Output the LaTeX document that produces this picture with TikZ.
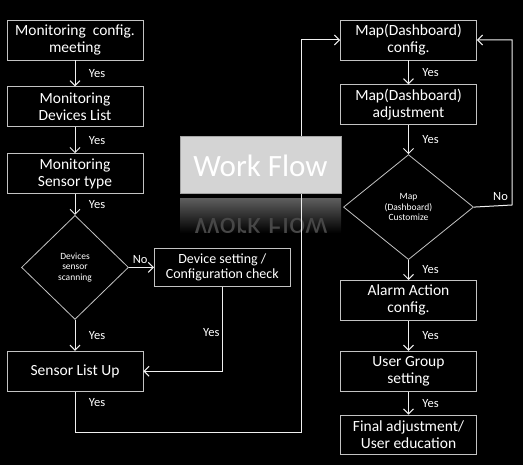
\documentclass[tikz,border=0pt]{standalone}
\usepackage{fontspec}
\setmainfont{Carlito}
\usepackage{tikz}
\usetikzlibrary{shapes.geometric, arrows.meta, positioning}
\definecolor{myline}{RGB}{240,240,240}
\definecolor{myedge}{RGB}{195,195,195}
\definecolor{mytitle}{RGB}{212,212,212}
\definecolor{mytitleedge}{RGB}{165,165,165}
\tikzset{
  box/.style={rectangle, draw=myedge, fill=black, text=white,
    minimum width=136pt, minimum height=40pt, align=center,
    font=\fontsize{15.5}{17}\selectfont, inner sep=1pt, line width=0.8pt},
  decision/.style={diamond, draw=myedge, fill=black, text=white,
    align=center, inner sep=0pt, font=\fontsize{9.5}{10.5}\selectfont,
    line width=0.8pt},
  titlebox/.style={rectangle, draw=mytitleedge, fill=mytitle, text=white,
    minimum width=161pt, minimum height=57pt,
    font=\fontsize{31}{32}\selectfont, line width=1pt},
  lbl/.style={text=white, font=\fontsize{12.5}{13}\selectfont},
  arrow/.style={-{Straight Barb[length=5pt,width=10pt]}, line width=1pt, color=myline},
  line/.style={line width=1pt, color=myline}
}

\begin{document}
\begin{tikzpicture}[x=1pt, y=1pt]
  \fill[black] (0,0) rectangle (523,-465);
  \useasboundingbox (0,0) rectangle (523,-465);

  \node[box] (meet) at (75,-40) {Monitoring\ \ config.\\meeting};
  \node[box, below=26pt of meet] (devlist) {Monitoring\\Devices List};
  \node[box, below=26pt of devlist] (stype) {Monitoring\\Sensor type};
  \node[decision, minimum width=107pt, minimum height=104pt, below=21pt of stype] (scan) {Devices\\sensor\\scanning};
  \node[box, minimum height=38pt, font=\fontsize{14}{15.5}\selectfont, right=25pt of scan] (check) {Device setting /\\Configuration check};
  \node[box, below=31pt of scan] (listup) {Sensor List Up};

  \node[box] (mapcfg) at (408.5,-40) {Map(Dashboard)\\config.};
  \node[box, below=24pt of mapcfg] (mapadj) {Map(Dashboard)\\adjustment};
  \node[decision, minimum width=130pt, minimum height=105pt, below=29pt of mapadj] (custom) {Map\\(Dashboard)\\Customize};
  \node[box, below=20pt of custom] (alarm) {Alarm Action\\config.};
  \node[box, below=30pt of alarm] (group) {User Group\\setting};
  \node[box, minimum height=39pt, below=23pt of group] (final) {Final adjustment/\\User education};

  \coordinate (lowbend) at (301,-433);
  \coordinate (nobend) at (512,-205);

  \begin{scope}
    \clip (180,-199) rectangle (341,-233);
    \shade[top color=black!64, bottom color=black] (180,-199) rectangle (341,-233);
    \node[text=black!72, font=\fontsize{31}{32}\selectfont, yscale=-1, transform shape] (mirror) at (260.5,-229) {Work Flow};
  \end{scope}

  \draw[arrow] (meet) -- node[lbl, right=10pt] {Yes} (devlist);
  \draw[arrow] (devlist) -- node[lbl, right=10pt] {Yes} (stype);
  \draw[arrow] (stype) -- node[lbl, right=10pt] {Yes} (scan);
  \draw[arrow] (scan) -- node[lbl, right=10pt] {Yes} (listup);
  \draw[arrow] (scan.east) -- node[lbl, above=0pt, pos=0.45] {No} (check.west);
  \draw[arrow] (check.south) |- node[lbl, left=-1pt, pos=0.27] {Yes} (listup.east);
  \draw[arrow] (listup.south) -- node[lbl, right=10pt, pos=0.27] {Yes} (listup.south |- lowbend) -- (lowbend) |- (mapcfg.west);

  \draw[arrow] (mapcfg) -- node[lbl, right=10pt] {Yes} (mapadj);
  \draw[arrow] (mapadj) -- node[lbl, right=10pt] {Yes} (custom);
  \draw[arrow] (custom.east) -- node[lbl, above=1pt, pos=0.7] {No} (nobend) |- (mapcfg.east);
  \draw[arrow] (custom) -- node[lbl, right=10pt] {Yes} (alarm);
  \draw[arrow] (alarm) -- node[lbl, right=10pt] {Yes} (group);
  \draw[arrow] (group) -- node[lbl, right=10pt] {Yes} (final);

  \node[titlebox] (title) at (260.5,-165.5) {Work Flow};
\end{tikzpicture}
\end{document}
